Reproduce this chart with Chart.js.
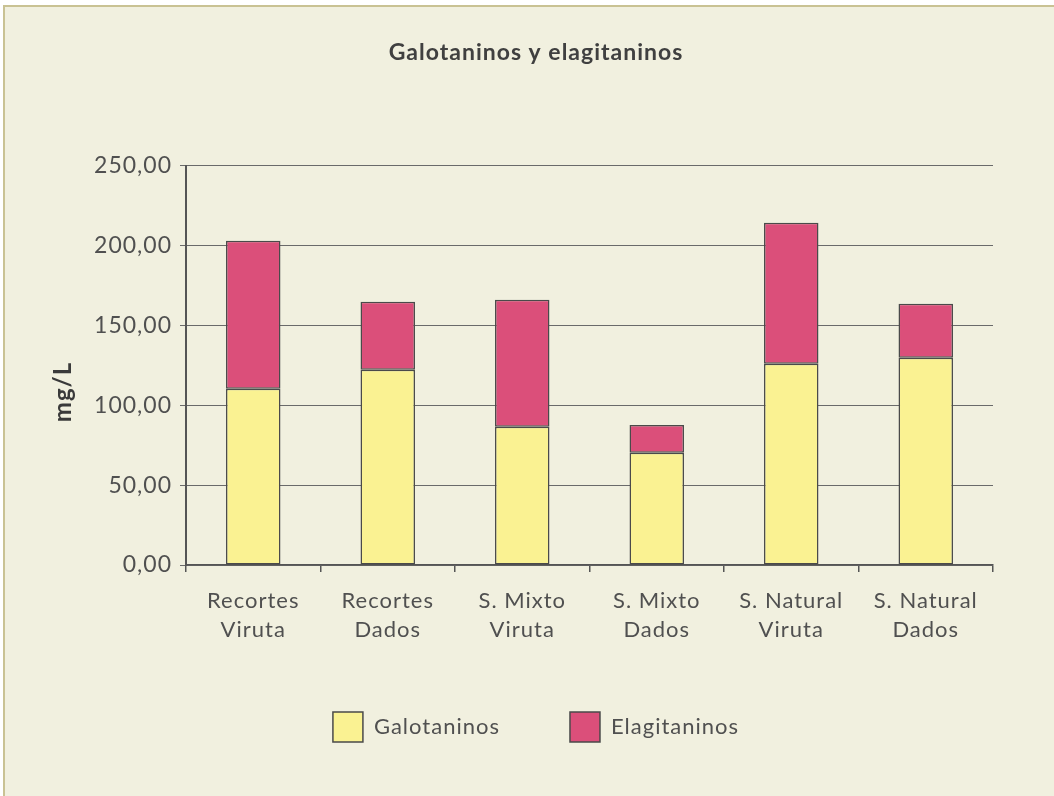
<!DOCTYPE html>
<html>
<head>
<meta charset="utf-8">
<script src="https://cdn.jsdelivr.net/npm/chart.js@4"></script>
<style>
  html, body { margin: 0; padding: 0; background: #ffffff; }
  #wrap { position: relative; width: 1054px; height: 796px; }
  canvas { display: block; }
</style>
</head>
<body>
<div id="wrap"><canvas id="c" width="1054" height="796"></canvas></div>
<script>
const chartTitle = "Galotaninos y elagitaninos";
const yAxisTitle = "mg/L";
const categories = [
  ["Recortes", "Viruta"],
  ["Recortes", "Dados"],
  ["S. Mixto", "Viruta"],
  ["S. Mixto", "Dados"],
  ["S. Natural", "Viruta"],
  ["S. Natural", "Dados"]
];
const seriesNames = ["Galotaninos", "Elagitaninos"];
const galotaninos = [110.3, 122.2, 86.5, 70.2, 125.9, 129.7];
const elagitaninos = [92.7, 42.6, 79.5, 17.5, 88.4, 33.8];
const yMin = 0, yMax = 250, yStep = 50;

const FONT = "Lato, 'Noto Sans', sans-serif";
const TEXT = "#505050";

const spacingPlugin = {
  id: 'spacing',
  beforeUpdate(chart) { chart.ctx.letterSpacing = '1px'; },
  beforeLayout(chart) { chart.ctx.letterSpacing = '1px'; },
  beforeDraw(chart) { chart.ctx.letterSpacing = '1px'; }
};

const bgPlugin = {
  id: 'bg',
  beforeDraw(chart) {
    const ctx = chart.ctx;
    ctx.save();
    ctx.fillStyle = '#ffffff';
    ctx.fillRect(0, 0, chart.width, chart.height);
    ctx.fillStyle = '#F1F0DF';
    ctx.fillRect(3, 5, chart.width - 3, chart.height - 5);
    ctx.fillStyle = '#C9C293';
    ctx.fillRect(3, 5, chart.width - 3, 2);
    ctx.fillRect(3, 5, 2, chart.height - 5);
    ctx.restore();
  }
};

const yTitlePlugin = {
  id: 'ytitle',
  afterDraw(chart) {
    const ctx = chart.ctx;
    ctx.save();
    ctx.translate(63, 392);
    ctx.rotate(-Math.PI / 2);
    ctx.font = "bold 24px " + FONT;
    ctx.fillStyle = "#3a3a3a";
    ctx.textAlign = 'center';
    ctx.textBaseline = 'middle';
    ctx.fillText(yAxisTitle, 0, 0);
    ctx.restore();
  }
};

new Chart(document.getElementById('c'), {
  type: 'bar',
  data: {
    labels: categories,
    datasets: [
      {
        label: seriesNames[0],
        data: galotaninos,
        backgroundColor: '#FAF292',
        borderColor: '#4a4a4a',
        borderWidth: 1.5,
        borderSkipped: false,
        barPercentage: 0.405,
        categoryPercentage: 1.0
      },
      {
        label: seriesNames[1],
        data: elagitaninos,
        backgroundColor: '#DB4F7A',
        borderColor: '#4a4a4a',
        borderWidth: 1.5,
        borderSkipped: false,
        barPercentage: 0.405,
        categoryPercentage: 1.0
      }
    ]
  },
  options: {
    responsive: false,
    animation: false,
    devicePixelRatio: 1,
    layout: { padding: { left: 79, right: 61, top: 0, bottom: 44 } },
    plugins: {
      title: {
        display: true,
        text: chartTitle,
        color: '#404040',
        font: { family: FONT, size: 23, weight: 'bold' },
        padding: { top: 39, bottom: 99 }
      },
      legend: {
        display: true,
        position: 'bottom',
        labels: {
          boxWidth: 30,
          boxHeight: 30,
          padding: 70,
          color: TEXT,
          font: { family: FONT, size: 22 }
        }
      },
      tooltip: { enabled: false }
    },
    scales: {
      x: {
        stacked: true,
        grid: {
          display: true,
          drawOnChartArea: false,
          drawTicks: true,
          tickLength: 7,
          color: '#555555',
          lineWidth: 1.5,
          offset: true
        },
        border: { display: true, color: '#555555', width: 1.5 },
        ticks: {
          color: TEXT,
          padding: 15,
          font: { family: FONT, size: 22, lineHeight: 1.3 },
          maxRotation: 0,
          autoSkip: false
        },
        afterFit(scale) { scale.height = 77; }
      },
      y: {
        stacked: true,
        min: yMin,
        max: yMax,
        grid: {
          color: '#6a6a6a',
          lineWidth: 1,
          tickLength: 6,
          drawTicks: true
        },
        border: { display: true, color: '#555555', width: 2 },
        ticks: {
          stepSize: yStep,
          color: TEXT,
          padding: 8,
          font: { family: FONT, size: 23 },
          callback: (v) => Number(v).toFixed(2).replace('.', ',')
        },
        afterFit(scale) { scale.width = 107; }
      }
    }
  },
  plugins: [spacingPlugin, bgPlugin, yTitlePlugin]
});
</script>
</body>
</html>
